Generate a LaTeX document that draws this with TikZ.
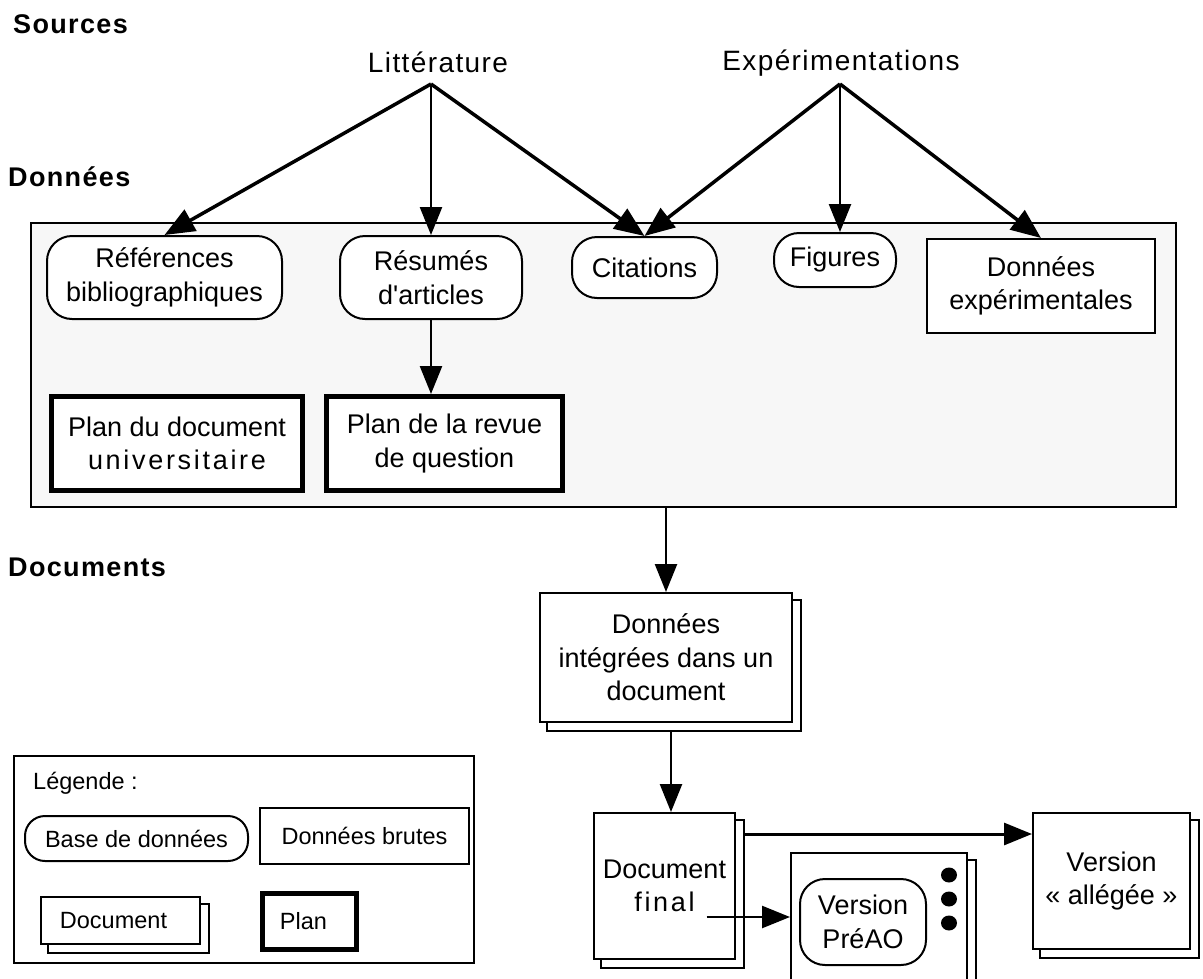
\documentclass[tikz,border=0pt]{standalone}
\usepackage{fontspec}
\setmainfont{Liberation Sans}
\newfontfamily\headfont[LetterSpace=5]{Liberation Sans}
\newfontfamily\srcfont[LetterSpace=5]{Liberation Sans}
\newfontfamily\spaced[LetterSpace=10]{Liberation Sans}
\usetikzlibrary{arrows.meta,backgrounds}
\definecolor{panel}{HTML}{F7F7F7}
\begin{document}
\begin{tikzpicture}[x=1pt,y=-1pt,
  every node/.style={font=\fontsize{27}{33.5}\selectfont, inner sep=0pt, align=center},
  head/.style={font=\headfont\bfseries\fontsize{27}{30}\selectfont, anchor=west},
  srcnode/.style={font=\srcfont\fontsize{28}{33}\selectfont},
  lgd/.style={font=\fontsize{23.5}{28}\selectfont},
  db/.style={draw, line width=2pt, fill=white, rounded corners=25pt},
  raw/.style={draw, line width=2pt, fill=white},
  planbox/.style={draw, line width=5pt, fill=white},
  docbox/.style={draw, line width=2pt, fill=white},
  arr/.style={line width=2.5pt, -{Triangle[length=28pt,width=22pt]}},
  darr/.style={line width=3.5pt, -{Triangle[length=30pt,width=24pt]}},
  shadowbox/.style={line width=2pt, fill=white}
]
\useasboundingbox (0,0) rectangle (1203,978);
\clip (0,0) rectangle (1203,978);

% headings
\node[head] (hsrc) at (13,24) {Sources};
\node[head] (hdon) at (8,177) {Données};
\node[head] (hdoc) at (8,567) {Documents};

% sources
\node[srcnode] (litt) at (438,62) {Littérature};
\node[srcnode] (exp) at (841,63) {Expérimentations};
\coordinate (la) at (431,84);
\coordinate (ea) at (840,84);

% data panel
\node[draw, line width=2.5pt, fill=panel, minimum width=1145pt, minimum height=284pt] (data) at (603.5,365) {};

\node[db, minimum width=235pt, minimum height=83pt] (ref) at (164.5,277.5) {Références\\bibliographiques};
\node[db, minimum width=182pt, minimum height=83pt] (res) at (431,277.5) {Résumés\\d\textquotesingle articles};
\node[db, minimum width=145pt, minimum height=61pt] (cit) at (644.5,267.5) {Citations};
\node[db, minimum width=122pt, minimum height=54pt] (fig) at (835,260) {Figures};
\node[raw, minimum width=228pt, minimum height=94pt] (dexp) at (1041,286) {Données\\expérimentales};
\node[planbox, minimum width=251pt, minimum height=94pt] (plan1) at (177,443.5) {Plan du document\\{\spaced universitaire}};
\node[planbox, minimum width=236pt, minimum height=94pt] (plan2) at (444.5,443.5) {Plan de la revue\\de question};

% documents
\node[docbox, minimum width=252pt, minimum height=129pt] (dint) at (666,657.5) {Données\\intégrées dans un\\document};
\node[docbox, minimum width=141pt, minimum height=146pt] (dfin) at (664.5,886) {Document\\{\spaced final}};
\node[docbox, minimum width=157pt, minimum height=136pt] (vall) at (1111.5,881) {Version\\«~allégée~»};
\node[docbox, minimum width=176pt, minimum height=150pt] (pre) at (879,928) {};
\node[db, minimum width=126pt, minimum height=86pt] (preao) at (863,922) {Version\\PréAO};
\fill (949,875) ellipse (8 and 7.5);
\fill (949,899) ellipse (8 and 7.5);
\fill (949,923) ellipse (8 and 7.5);

% legend
\node[draw, line width=2pt, minimum width=460pt, minimum height=207pt] (legend) at (244,859.5) {};
\node[lgd, anchor=west] (ltitle) at (33,783) {Légende :};
\node[lgd, db, rounded corners=20pt, minimum width=223pt, minimum height=45pt] (lbase) at (136.5,838.5) {Base de données};
\node[lgd, raw, minimum width=209pt, minimum height=56pt] (lraw) at (364.5,836) {Données brutes};
\node[lgd, docbox, minimum width=159pt, minimum height=47pt] (ldoc) at (120.5,920.5) {Document\hspace*{14pt}};
\node[lgd, planbox, minimum width=94pt, minimum height=56pt] (lplan) at (309.5,921.5) {Plan\hspace*{12pt}};

% shadows of document boxes
\begin{scope}[on background layer]
\foreach \n in {dint,dfin,pre,vall,ldoc}
  \draw[shadowbox] ([shift={(8pt,-8pt)}]\n.south west) rectangle ([shift={(8pt,-8pt)}]\n.north east);
\end{scope}

% connectors
\draw[darr] (la) -- (ref.north);
\draw[arr] (la) -- (res.north);
\draw[darr] (la) -- (cit.north);
\draw[darr] (ea) -- (cit.north);
\draw[arr] (ea) -- (ea |- fig.north);
\draw[darr] (ea) -- (dexp.north);
\draw[arr] (res.south) -- (res.south |- plan2.north);
\draw[arr] (dint.north |- data.south) -- (dint.north);
\coordinate (dintout) at ([xshift=5pt]dint.south);
\draw[arr] ([yshift=-9pt]dintout) -- (dintout |- dfin.north);
\coordinate (dfinr) at ([xshift=9pt,yshift=52pt]dfin.east);
\draw[line width=3pt, -{Triangle[length=28pt,width=22pt]}] (dfinr) -- (vall.west |- dfinr);
\coordinate (dfins) at ([xshift=42pt,yshift=-31pt]dfin.center);
\draw[arr] (dfins) -- (pre.west |- dfins);
\end{tikzpicture}
\end{document}
